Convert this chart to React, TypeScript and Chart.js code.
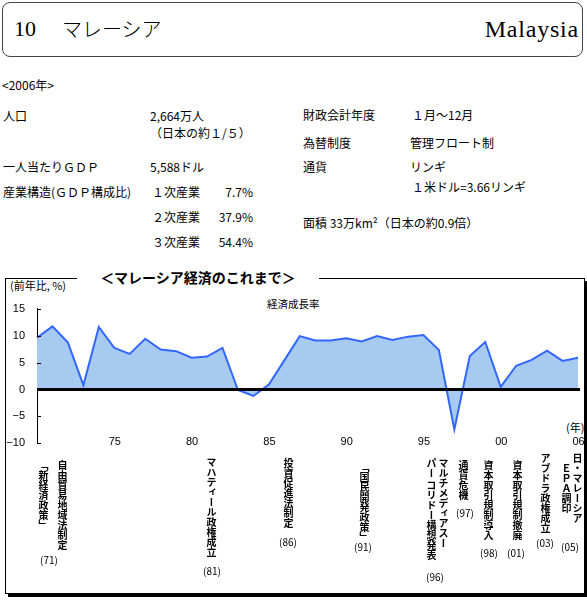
import React, { useEffect, useRef } from 'react';
import { Chart, registerables } from 'chart.js';
Chart.register(...registerables);

// x tick labels (one per plotted point)
const xTickLabels = ['', '', '', '', '75', '', '', '', '', '80', '', '', '', '', '85', '', '', '', '', '90', '', '', '', '', '95', '', '', '', '', '00', '', '', '', '', '06', ''];
// 経済成長率 (前年比, %)
const growthRate = [9.6, 11.7, 8.7, 0.8, 11.6, 7.7, 6.6, 9.4, 7.4, 7.1, 5.9, 6.1, 7.7, -0.1, -1.2, 0.9, 5.4, 9.9, 9.1, 9.1, 9.5, 8.9, 9.9, 9.2, 9.8, 10.1, 7.3, -7.4, 6.2, 8.8, 0.5, 4.4, 5.5, 7.2, 5.3, 5.9];
const yTicks = [-10, -5, 0, 5, 10, 15];

const JP = '"Noto Sans CJK JP", "Noto Sans", sans-serif';
const SANS = '"Liberation Sans", Arial, sans-serif';

const annotations = [
  { x: 43, y: 460, t: '「新経済政策」' },
  { x: 62, y: 460, t: '自由貿易地域法制定' },
  { x: 211, y: 457, t: 'マハティール政権成立' },
  { x: 288, y: 458, t: '投資促進法制定' },
  { x: 364, y: 462, t: '「国民開発政策」' },
  { x: 443, y: 458, t: 'マルチメディアスー' },
  { x: 431, y: 458, t: 'パー コリドー構想発表' },
  { x: 463, y: 460, t: '通貨危機' },
  { x: 488, y: 460, t: '資本取引規制導入' },
  { x: 517, y: 460, t: '資本取引規制撤廃' },
  { x: 545, y: 453, t: 'アブドラ政権成立' },
  { x: 577, y: 453, t: '日・マレーシア' },
  { x: 566, y: 463, t: 'ＥＰＡ調印' },
];
const annYears = [
  { x: 49, y: 560, t: '(71)' },
  { x: 212, y: 571, t: '(81)' },
  { x: 288, y: 542, t: '(86)' },
  { x: 363, y: 547, t: '(91)' },
  { x: 435, y: 577, t: '(96)' },
  { x: 465, y: 513, t: '(97)' },
  { x: 489, y: 553, t: '(98)' },
  { x: 516, y: 553, t: '(01)' },
  { x: 545, y: 543, t: '(03)' },
  { x: 570, y: 547, t: '(05)' },
];

function T(p: { x: number; y: number; s?: number; w?: any; children: any; right?: boolean; center?: boolean; font?: string }) {
  const s = p.s ?? 12;
  const st: any = {
    position: 'absolute',
    top: p.y - s / 2,
    fontSize: s,
    lineHeight: 1,
    whiteSpace: 'pre',
    fontWeight: p.w ?? 'normal',
    fontFamily: p.font ?? JP,
    color: '#000',
  };
  if (p.right) st.right = 587 - p.x;
  else if (p.center) { st.left = p.x; st.transform = 'translateX(-50%)'; }
  else st.left = p.x;
  return <div style={st}>{p.children}</div>;
}

const innerTicks = {
  id: 'innerTicks',
  afterDatasetsDraw(chart: any) {
    const { ctx, chartArea, scales } = chart;
    const y = scales.y;
    ctx.save();
    ctx.strokeStyle = '#000';
    ctx.lineWidth = 1;
    y.ticks.forEach((t: any) => {
      if (t.value === 0) return;
      const py = Math.round(y.getPixelForValue(t.value)) + 0.5;
      ctx.beginPath();
      ctx.moveTo(chartArea.left, py);
      ctx.lineTo(chartArea.left + 4, py);
      ctx.stroke();
    });
    ctx.lineWidth = 3;
    const p0 = y.getPixelForValue(0);
    ctx.beginPath();
    ctx.moveTo(chartArea.left, p0);
    ctx.lineTo(chartArea.right + 2, p0);
    ctx.stroke();
    ctx.restore();
  },
};

export default function App() {
  const ref = useRef<HTMLCanvasElement>(null);
  useEffect(() => {
    document.body.style.margin = '0';
    const chart = new Chart(ref.current!, {
      type: 'line',
      data: {
        labels: xTickLabels,
        datasets: [
          {
            data: growthRate,
            borderColor: '#3366FF',
            backgroundColor: '#A6CAF0',
            borderWidth: 2,
            fill: 'origin',
            pointRadius: 0,
            tension: 0,
          },
        ],
      },
      options: {
        responsive: false,
        animation: false,
        layout: { padding: { top: 12, bottom: 7, right: 9, left: 0 } },
        plugins: { legend: { display: false }, tooltip: { enabled: false }, title: { display: false } },
        scales: {
          x: {
            type: 'category',
            position: { y: -8 } as any,
            offset: false,
            grid: { display: false, drawTicks: false },
            border: { display: false },
            ticks: {
              autoSkip: false,
              maxRotation: 0,
              minRotation: 0,
              labelOffset: 16,
              padding: 3,
              color: '#000',
              font: { family: SANS, size: 11 },
            },
          },
          y: {
            min: -10,
            max: 15,
            afterBuildTicks: (s: any) => {
              s.ticks = yTicks.map((v) => ({ value: v }));
            },
            afterFit: (s: any) => {
              s.width = 37;
            },
            grid: { display: false, drawTicks: false },
            border: { display: true, color: '#000', width: 1 },
            ticks: {
              padding: 12,
              color: '#000',
              font: { family: SANS, size: 11 },
              callback: (v: any) => (v < 0 ? '−' + Math.abs(v) : String(v)),
            },
          },
        },
      } as any,
      plugins: [innerTicks],
    });
    return () => chart.destroy();
  }, []);

  return (
    <div style={{ position: 'relative', width: 587, height: 600, background: '#fff', overflow: 'hidden', fontFamily: JP }}>
      {/* header box */}
      <div style={{ position: 'absolute', left: 2, top: 2, width: 581, height: 55, border: '1px solid #444', borderRadius: 8, boxSizing: 'border-box' }} />
      <T x={14} y={29} s={22} font='"Liberation Serif", serif'>10</T>
      <T x={62} y={29} s={20} w={300}>マレーシア</T>
      <div style={{ position: 'absolute', right: 8, top: 17, fontSize: 24, lineHeight: 1, fontFamily: '"Liberation Serif", serif', letterSpacing: 0.8 }}>Malaysia</div>

      {/* profile */}
      <T x={2} y={85}>{'<2006年>'}</T>
      <T x={3} y={116}>人口</T>
      <T x={150} y={116}>2,664万人</T>
      <T x={150} y={133}>（日本の約１/５）</T>
      <T x={3} y={167}>一人当たりＧＤＰ</T>
      <T x={150} y={167}>5,588ドル</T>
      <T x={3} y={192}>産業構造(ＧＤＰ構成比)</T>
      <T x={152} y={192}>１次産業</T>
      <T x={253} y={192} right>7.7%</T>
      <T x={152} y={217}>２次産業</T>
      <T x={253} y={217} right>37.9%</T>
      <T x={152} y={242}>３次産業</T>
      <T x={253} y={242} right>54.4%</T>

      <T x={303} y={115}>財政会計年度</T>
      <T x={412} y={115}>１月～12月</T>
      <T x={303} y={143}>為替制度</T>
      <T x={410} y={143}>管理フロート制</T>
      <T x={303} y={167}>通貨</T>
      <T x={410} y={167}>リンギ</T>
      <T x={412} y={187}>１米ドル=3.66リンギ</T>
      <T x={303} y={223}>面積 33万km²（日本の約0.9倍）</T>

      {/* chart frame */}
      <div style={{ position: 'absolute', left: 5, top: 278, width: 580, height: 316, border: '1px solid #000', boxShadow: '3px 3px 0 #000', boxSizing: 'border-box' }} />
      <div style={{ position: 'absolute', left: 77, top: 268, width: 242, height: 18, background: '#fff', textAlign: 'center', fontSize: 14, lineHeight: '18px', fontWeight: 'bold', fontFamily: JP }}>＜マレーシア経済のこれまで＞</div>
      <T x={10} y={285} s={11}>(前年比, %)</T>
      <T x={267} y={304} s={10.5}>経済成長率</T>
      <T x={566} y={427} s={11}>(年)</T>

      <canvas ref={ref} width={587} height={172} style={{ position: 'absolute', left: 0, top: 290, width: 587, height: 172 }} />

      {annotations.map((a, i) => (
        <div key={'a' + i} style={{ position: 'absolute', left: a.x - 5, top: a.y, writingMode: 'vertical-rl', fontSize: 10, lineHeight: 1, fontWeight: 'bold', fontFamily: JP, whiteSpace: 'pre' }}>{a.t}</div>
      ))}
      {annYears.map((a, i) => (
        <T key={'y' + i} x={a.x} y={a.y} s={10} center>{a.t}</T>
      ))}
    </div>
  );
}
